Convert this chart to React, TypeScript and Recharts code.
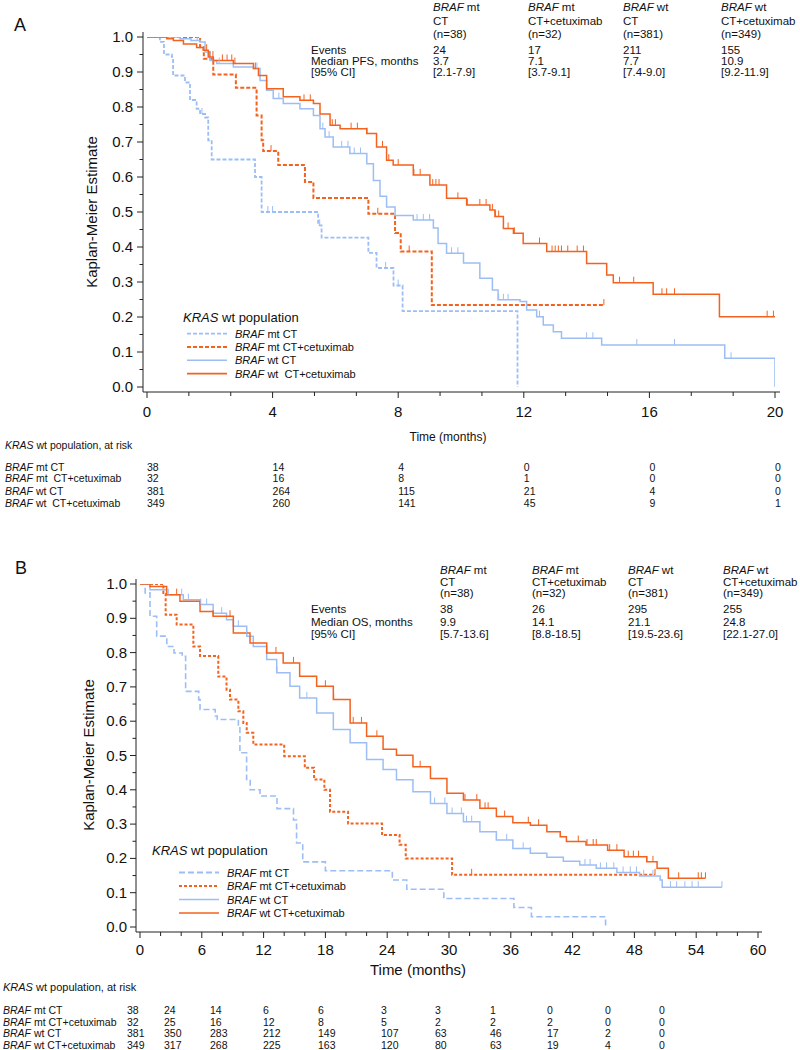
import React from 'react';
import { ComposedChart, Line, XAxis, YAxis } from 'recharts';

type Pt = [number, number];

const FONT = "'Liberation Sans', Arial, sans-serif";
const BLUE = '#9dbef5';
const ORANGE = '#f4621f';

// ---------- group descriptors ----------
const groupGene = ['mt', 'mt', 'wt', 'wt'];
const groupArm = ['CT', 'CT+cetuximab', 'CT', 'CT+cetuximab'];
const groupN = [38, 32, 381, 349];

// ---------- Panel A: PFS ----------
const pfsEvents = ['24', '17', '211', '155'];
const pfsMedian = ['3.7', '7.1', '7.7', '10.9'];
const pfsCI = ['[2.1-7.9]', '[3.7-9.1]', '[7.4-9.0]', '[9.2-11.9]'];
const pfsTicksMajor = [0, 4, 8, 12, 16, 20];
const pfsTicksAll = [0, 1.333, 2.667, 4, 5.333, 6.667, 8, 9.333, 10.667, 12, 13.333, 14.667, 16, 17.333, 18.667, 20];
const pfsAtRiskTimes = [0, 4, 8, 12, 16, 20];
const pfsAtRisk = [
  [38, 14, 4, 0, 0, 0],
  [32, 16, 8, 1, 0, 0],
  [381, 264, 115, 21, 4, 0],
  [349, 260, 141, 45, 9, 1],
];

const pfsMtCT: Pt[] = [
  [0, 1], [0.41, 0.986], [0.54, 0.95], [0.79, 0.943], [0.83, 0.89], [1.21, 0.87], [1.37, 0.82],
  [1.58, 0.795], [1.69, 0.78], [1.85, 0.77], [1.95, 0.705], [2.06, 0.65], [3.44, 0.6], [3.65, 0.5],
  [5.45, 0.462], [5.56, 0.427], [7.05, 0.383], [7.31, 0.34], [7.85, 0.29], [8.14, 0.217], [11.8, 0],
];
const pfsMtCTCens = [1.75, 3.85, 4.0, 5.5, 7.6, 8.0];

const pfsMtCetux: Pt[] = [
  [0, 1], [1.69, 0.971], [1.81, 0.938], [2.11, 0.893], [2.83, 0.855], [3.49, 0.776], [3.65, 0.705],
  [3.7, 0.674], [4.18, 0.634], [5.03, 0.586], [5.3, 0.54], [7.05, 0.495], [7.9, 0.44], [8.08, 0.387],
  [9.07, 0.234], [14.55, 0.234],
];
const pfsMtCetuxCens = [3.95, 7.35, 8.35, 14.55];

const pfsWtCT: Pt[] = [
  [0, 1], [1.05, 0.995], [1.4, 0.99], [1.69, 0.986], [1.85, 0.957], [2.01, 0.933], [2.22, 0.924],
  [2.75, 0.914], [3.39, 0.91], [3.6, 0.876], [3.81, 0.848], [4.02, 0.824], [4.34, 0.81], [4.87, 0.795],
  [5.3, 0.776], [5.51, 0.738], [5.67, 0.714], [5.93, 0.686], [6.46, 0.667], [7.0, 0.638], [7.21, 0.59],
  [7.42, 0.545], [7.63, 0.514], [7.9, 0.49], [8.48, 0.477], [9.12, 0.454], [9.27, 0.41], [9.54, 0.382],
  [10.08, 0.354], [10.6, 0.311], [11.0, 0.277], [11.18, 0.249], [11.88, 0.244], [12.09, 0.22],
  [12.41, 0.201], [12.62, 0.177], [12.94, 0.158], [13.2, 0.139], [14.48, 0.12], [18.4, 0.082], [20.0, 0],
];
const pfsWtCTCens = [1.6, 2.3, 3.5, 4.2, 5.6, 5.8, 6.2, 6.4, 6.6, 6.8, 8.6, 8.8, 9.0, 9.7, 9.9, 11.2, 11.35, 11.5, 12.5, 14.0, 14.2, 15.6, 16.8, 18.6];

const pfsWtCetux: Pt[] = [
  [0, 1], [0.63, 0.995], [0.84, 0.99], [1.16, 0.98], [1.58, 0.97], [1.79, 0.962], [1.95, 0.943],
  [2.11, 0.933], [2.75, 0.924], [3.39, 0.91], [3.55, 0.89], [3.81, 0.852], [4.34, 0.829], [4.87, 0.819],
  [5.3, 0.81], [5.51, 0.78], [5.83, 0.748], [6.15, 0.738], [7.0, 0.724], [7.31, 0.686], [7.63, 0.648],
  [7.84, 0.634], [8.48, 0.606], [9.01, 0.577], [9.54, 0.539], [10.18, 0.52], [10.92, 0.506],
  [11.08, 0.487], [11.35, 0.453], [11.67, 0.439], [11.98, 0.41], [12.73, 0.387], [14.0, 0.353],
  [14.64, 0.32], [14.85, 0.298], [16.12, 0.265], [18.23, 0.201], [20.05, 0.201],
];
const pfsWtCetuxCens = [1.9, 2.0, 2.1, 2.4, 2.55, 2.7, 2.8, 3.45, 5.0, 5.2, 5.9, 6.0, 6.5, 6.7, 7.0, 7.5, 7.7, 8.0, 8.5, 8.7, 9.1, 9.2, 9.3, 9.9, 10.2, 10.6, 10.8, 11.0, 11.1, 11.2, 11.5, 11.7, 12.5, 12.9, 13.0, 13.1, 13.2, 13.4, 13.7, 13.9, 15.05, 15.5, 16.4, 16.55, 16.8, 19.75, 19.95];

// ---------- Panel B: OS ----------
const osEvents = ['38', '26', '295', '255'];
const osMedian = ['9.9', '14.1', '21.1', '24.8'];
const osCI = ['[5.7-13.6]', '[8.8-18.5]', '[19.5-23.6]', '[22.1-27.0]'];
const osTicksMajor = [0, 6, 12, 18, 24, 30, 36, 42, 48, 54, 60];
const osTicksAll = [0, 2, 4, 6, 8, 10, 12, 14, 16, 18, 20, 22, 24, 26, 28, 30, 32, 34, 36, 38, 40, 42, 44, 46, 48, 50, 52, 54, 56, 58, 60];
const osAtRisk = [
  [38, 24, 14, 6, 6, 3, 3, 1, 0, 0, 0],
  [32, 25, 16, 12, 8, 5, 2, 2, 2, 0, 0],
  [381, 350, 283, 212, 149, 107, 63, 46, 17, 2, 0],
  [349, 317, 268, 225, 163, 120, 80, 63, 19, 4, 0],
];
const osAtRiskColX = [127, 164, 210, 263, 318, 381, 435, 490, 547, 605, 659];

const osMtCT: Pt[] = [
  [0, 1], [0.5, 0.974], [0.97, 0.906], [1.62, 0.848], [2.6, 0.818], [3.3, 0.799], [4.1, 0.789],
  [4.43, 0.687], [5.7, 0.663], [5.83, 0.634], [7.3, 0.615], [7.5, 0.605], [9.55, 0.585], [9.7, 0.508],
  [10.35, 0.43], [10.7, 0.4], [11.65, 0.382], [13.3, 0.345], [14.9, 0.312], [15.2, 0.245], [15.8, 0.19],
  [18.0, 0.164], [24.5, 0.137], [25.9, 0.11], [29.5, 0.083], [36.3, 0.057], [38.0, 0.03], [45.2, 0],
];
const osMtCTCens: number[] = [];

const osMtCetux: Pt[] = [
  [0, 1], [2.27, 0.974], [2.49, 0.91], [3.56, 0.882], [5.18, 0.818], [5.83, 0.79], [7.6, 0.73],
  [8.4, 0.692], [8.74, 0.663], [9.55, 0.629], [10.03, 0.595], [10.36, 0.566], [11.0, 0.532],
  [14.0, 0.498], [16.0, 0.464], [16.9, 0.43], [17.9, 0.4], [18.45, 0.336], [20.2, 0.302],
  [23.5, 0.268], [25.2, 0.24], [25.8, 0.2], [30.3, 0.152], [50.0, 0.152],
];
const osMtCetuxCens = [32.2, 50.0];

const osWtCT: Pt[] = [
  [0, 1], [0.97, 0.983], [2.59, 0.969], [4.2, 0.954], [5.83, 0.94], [7.1, 0.915], [8.4, 0.896],
  [9.06, 0.877], [10.36, 0.848], [11.0, 0.818], [12.3, 0.78], [13.27, 0.741], [14.56, 0.702],
  [15.5, 0.668], [17.15, 0.624], [18.77, 0.576], [20.4, 0.537], [22.0, 0.488], [23.6, 0.459],
  [24.9, 0.429], [26.5, 0.394], [28.2, 0.36], [29.8, 0.331], [31.4, 0.307], [33.0, 0.278],
  [34.6, 0.254], [36.2, 0.229], [37.9, 0.215], [39.5, 0.203], [41.1, 0.192], [42.7, 0.181],
  [44.3, 0.171], [46.3, 0.159], [48.5, 0.149], [50.5, 0.137], [50.7, 0.116], [56.5, 0.116],
];
const osWtCTCens = [2.75, 4.05, 4.7, 5.9, 6.47, 7.93, 9.55, 10.36, 13.3, 16.2, 28.6, 29.6, 30.3, 31.2, 31.7, 32.2, 34.6, 35.6, 37.2, 37.9, 43.2, 43.7, 44.7, 45.3, 46.0, 46.9, 47.6, 48.2, 48.9, 49.8, 51.5, 52.1, 52.9, 53.6, 54.2, 56.5];

const osWtCetux: Pt[] = [
  [0, 1], [0.97, 0.993], [2.59, 0.969], [3.88, 0.95], [5.83, 0.92], [7.1, 0.906], [9.06, 0.857],
  [10.68, 0.828], [12.3, 0.799], [13.9, 0.77], [15.5, 0.731], [17.15, 0.702], [18.77, 0.663],
  [20.4, 0.595], [22.0, 0.556], [23.6, 0.518], [24.9, 0.501], [26.5, 0.467], [28.2, 0.433],
  [29.8, 0.39], [31.4, 0.37], [33.0, 0.346], [34.6, 0.322], [36.2, 0.304], [37.9, 0.297],
  [39.5, 0.278], [40.8, 0.263], [41.4, 0.249], [43.3, 0.239], [45.4, 0.224], [47.0, 0.205],
  [49.2, 0.19], [50.2, 0.171], [51.3, 0.142], [54.9, 0.142],
];
const osWtCetuxCens = [3.56, 7.1, 8.74, 13.2, 14.9, 18.0, 18.8, 20.7, 21.5, 23.0, 27.2, 31.55, 32.7, 33.5, 33.8, 35.4, 37.7, 38.7, 42.55, 43.4, 44.0, 44.3, 45.6, 46.3, 47.4, 47.9, 48.4, 49.2, 49.8, 52.3, 54.2, 54.5, 54.9];

const survTicksAll = [0, 0.05, 0.1, 0.15, 0.2, 0.25, 0.3, 0.35, 0.4, 0.45, 0.5, 0.55, 0.6, 0.65, 0.7, 0.75, 0.8, 0.85, 0.9, 0.95, 1.0];

// ---------- helpers ----------
function buildKM(steps: Pt[], cens: number[]) {
  const pts = steps.map(([t, s]) => ({ t, s, c: 0 }));
  cens.forEach((ct) => {
    let s = steps[0][1];
    for (const [t, v] of steps) if (t <= ct) s = v;
    pts.push({ t: ct, s, c: 1 });
  });
  pts.sort((a, b) => a.t - b.t || a.c - b.c);
  return pts;
}

const censorDot = (color: string) => (p: any) => {
  const { cx, cy, payload, index } = p;
  if (!payload || !payload.c || cx == null || cy == null) return <g key={`n${index}`} />;
  return <line key={`c${index}`} x1={cx} x2={cx} y1={cy} y2={cy - 6} stroke={color} strokeWidth={1} />;
};

const makeXTick = (majors: number[], labelDy: number, fs: number) => (props: any) => {
  const { x, y, payload } = props;
  const v = payload.value;
  const major = majors.some((m) => Math.abs(m - v) < 1e-6);
  return (
    <g>
      <line x1={x} x2={x} y1={y} y2={y + (major ? 6 : 4)} stroke="#222" strokeWidth={1} />
      {major && (
        <text x={x} y={y + labelDy} textAnchor="middle" fontSize={fs} fontFamily={FONT} fill="#111">
          {String(v)}
        </text>
      )}
    </g>
  );
};

const makeYTick = (labelDx: number, fs: number) => (props: any) => {
  const { x, y, payload } = props;
  const v = payload.value;
  const major = Math.abs(v * 10 - Math.round(v * 10)) < 1e-6;
  return (
    <g>
      <line x1={x} x2={x - (major ? 6 : 3.5)} y1={y} y2={y} stroke="#222" strokeWidth={1} />
      {major && (
        <text x={x - labelDx} y={y + 5} textAnchor="end" fontSize={fs} fontFamily={FONT} fill="#111">
          {v.toFixed(1)}
        </text>
      )}
    </g>
  );
};

const series = (
  key: string,
  steps: Pt[],
  cens: number[],
  color: string,
  width: number,
  dash?: string,
) => (
  <Line
    key={key}
    data={buildKM(steps, cens)}
    dataKey="s"
    type="stepAfter"
    stroke={color}
    strokeWidth={width}
    strokeDasharray={dash}
    dot={censorDot(color)}
    activeDot={false}
    isAnimationActive={false}
  />
);

const Braf = ({ x, y, rest, fs }: { x: number; y: number; rest: string; fs: number }) => (
  <text x={x} y={y} fontSize={fs} fontFamily={FONT} fill="#111" style={{ whiteSpace: 'pre' }}>
    <tspan fontStyle="italic">BRAF</tspan>
    {rest}
  </text>
);

const T = ({ x, y, fs, children, anchor }: any) => (
  <text x={x} y={y} fontSize={fs} fontFamily={FONT} fill="#111" textAnchor={anchor || 'start'}>
    {children}
  </text>
);

const AXW = 40; // y-axis band width
const AXH = 30; // x-axis band height

export default function App() {
  const aCols = [433, 528, 623, 721];
  const bCols = [440, 532, 628, 723];
  const aX = (t: number) => 147 + t * 31.4;
  const aLegendY = [333.7, 347, 360.3, 373.6];
  const bLegendY = [872.5, 886, 899.5, 913];
  const legendStyles = [
    { c: BLUE, w: 1.8, dA: '4 2', dB: '6 3' },
    { c: ORANGE, w: 2, dA: '4 2', dB: '3 2' },
    { c: BLUE, w: 1.6, dA: undefined, dB: undefined },
    { c: ORANGE, w: 1.6, dA: undefined, dB: undefined },
  ];
  const aLegendText = [' mt CT', ' mt CT+cetuximab', ' wt CT', ' wt  CT+cetuximab'];
  const aRiskText = [' mt CT', ' mt  CT+cetuximab', ' wt CT', ' wt  CT+cetuximab'];
  const aRowY = [471, 482, 495, 507];
  const bRowY = [1014, 1025.5, 1037, 1048.5];

  return (
    <div style={{ position: 'absolute', left: 0, top: 0, width: 800, height: 1050, background: '#fff' }}>
      <div style={{ position: 'absolute', left: 0, top: 0 }}>
        <ComposedChart width={800} height={530} margin={{ top: 32, left: 143 - AXW, right: 20, bottom: 138 - AXH }}>
          <XAxis
            dataKey="t"
            type="number"
            domain={[0, 20]}
            ticks={pfsTicksAll}
            interval={0}
            height={AXH}
            padding={{ left: 4, right: 5 }}
            tickSize={0}
            tickMargin={0}
            tickLine={false}
            axisLine={{ stroke: '#222' }}
            tick={makeXTick(pfsTicksMajor, 25, 15)}
            allowDataOverflow
          />
          <YAxis
            type="number"
            domain={[0, 1]}
            ticks={survTicksAll}
            interval={0}
            width={AXW}
            padding={{ top: 5, bottom: 5 }}
            tickSize={0}
            tickMargin={0}
            tickLine={false}
            axisLine={{ stroke: '#222' }}
            tick={makeYTick(10, 15)}
            allowDataOverflow
          />
          {series('a1', pfsMtCT, pfsMtCTCens, BLUE, 1.8, '4 2')}
          {series('a2', pfsMtCetux, pfsMtCetuxCens, ORANGE, 2, '4 2')}
          {series('a3', pfsWtCT, pfsWtCTCens, BLUE, 1.5)}
          {series('a4', pfsWtCetux, pfsWtCetuxCens, ORANGE, 1.5)}
        </ComposedChart>
      </div>

      <div style={{ position: 'absolute', left: 0, top: 530 }}>
        <ComposedChart width={800} height={520} margin={{ top: 49, left: 136 - AXW, right: 38, bottom: 118 - AXH }}>
          <XAxis
            dataKey="t"
            type="number"
            domain={[0, 60]}
            ticks={osTicksAll}
            interval={0}
            height={AXH}
            padding={{ left: 4, right: 4 }}
            tickSize={0}
            tickMargin={0}
            tickLine={false}
            axisLine={{ stroke: '#222' }}
            tick={makeXTick(osTicksMajor, 23, 15)}
            allowDataOverflow
          />
          <YAxis
            type="number"
            domain={[0, 1]}
            ticks={survTicksAll}
            interval={0}
            width={AXW}
            padding={{ top: 5, bottom: 5 }}
            tickSize={0}
            tickMargin={0}
            tickLine={false}
            axisLine={{ stroke: '#222' }}
            tick={makeYTick(9, 15)}
            allowDataOverflow
          />
          {series('b1', osMtCT, osMtCTCens, BLUE, 1.6, '6 3')}
          {series('b2', osMtCetux, osMtCetuxCens, ORANGE, 2, '3 2')}
          {series('b3', osWtCT, osWtCTCens, BLUE, 1.5)}
          {series('b4', osWtCetux, osWtCetuxCens, ORANGE, 1.5)}
        </ComposedChart>
      </div>

      <svg width={800} height={1050} style={{ position: 'absolute', left: 0, top: 0, pointerEvents: 'none' }}>
        {/* ---------------- Panel A ---------------- */}
        <T x={14} y={31} fs={18}>A</T>
        <text transform="translate(97,212) rotate(-90)" textAnchor="middle" fontSize={15} fontFamily={FONT} fill="#111">
          Kaplan-Meier Estimate
        </text>
        <T x={448} y={441} fs={12} anchor="middle">Time (months)</T>

        {aCols.map((x, i) => (
          <g key={`ah${i}`}>
            <Braf x={x} y={11} rest={` ${groupGene[i]}`} fs={11.5} />
            <T x={x} y={25} fs={11.5}>{groupArm[i]}</T>
            <T x={x} y={37.5} fs={11.5}>{`(n=${groupN[i]})`}</T>
            <T x={x} y={54} fs={11.5}>{pfsEvents[i]}</T>
            <T x={x} y={65} fs={11.5}>{pfsMedian[i]}</T>
            <T x={x} y={76} fs={11.5}>{pfsCI[i]}</T>
          </g>
        ))}
        <T x={311} y={54} fs={11.5}>Events</T>
        <T x={311} y={65} fs={11.5}>Median PFS, months</T>
        <T x={311} y={76} fs={11.5}>[95% CI]</T>

        <text x={183} y={322} fontSize={13} fontFamily={FONT} fill="#111">
          <tspan fontStyle="italic">KRAS</tspan> wt population
        </text>
        {legendStyles.map((s, i) => (
          <g key={`al${i}`}>
            <line x1={187} x2={227} y1={aLegendY[i]} y2={aLegendY[i]} stroke={s.c} strokeWidth={s.w} strokeDasharray={s.dA} />
            <Braf x={235} y={aLegendY[i] + 4} rest={aLegendText[i]} fs={11} />
          </g>
        ))}

        <text x={5} y={449} fontSize={10.5} fontFamily={FONT} fill="#111">
          <tspan fontStyle="italic">KRAS</tspan> wt population, at risk
        </text>
        {pfsAtRisk.map((row, r) => (
          <g key={`ar${r}`}>
            <Braf x={5} y={aRowY[r]} rest={aRiskText[r]} fs={10.5} />
            {row.map((v, j) => (
              <T key={j} x={aX(pfsAtRiskTimes[j])} y={aRowY[r]} fs={10.5}>{String(v)}</T>
            ))}
          </g>
        ))}

        {/* ---------------- Panel B ---------------- */}
        <T x={15} y={574} fs={18}>B</T>
        <text transform="translate(94,755) rotate(-90)" textAnchor="middle" fontSize={15} fontFamily={FONT} fill="#111">
          Kaplan-Meier Estimate
        </text>
        <T x={418} y={975} fs={15} anchor="middle">Time (months)</T>

        {bCols.map((x, i) => (
          <g key={`bh${i}`}>
            <Braf x={x} y={574} rest={` ${groupGene[i]}`} fs={11.5} />
            <T x={x} y={586} fs={11.5}>{groupArm[i]}</T>
            <T x={x} y={596.5} fs={11.5}>{`(n=${groupN[i]})`}</T>
            <T x={x} y={613} fs={11.5}>{osEvents[i]}</T>
            <T x={x} y={626} fs={11.5}>{osMedian[i]}</T>
            <T x={x} y={637.5} fs={11.5}>{osCI[i]}</T>
          </g>
        ))}
        <T x={311} y={613} fs={11.5}>Events</T>
        <T x={311} y={626} fs={11.5}>Median OS, months</T>
        <T x={311} y={637.5} fs={11.5}>[95% CI]</T>

        <text x={152} y={855} fontSize={13} fontFamily={FONT} fill="#111">
          <tspan fontStyle="italic">KRAS</tspan> wt population
        </text>
        {legendStyles.map((s, i) => (
          <g key={`bl${i}`}>
            <line x1={179} x2={219} y1={bLegendY[i]} y2={bLegendY[i]} stroke={s.c} strokeWidth={s.w} strokeDasharray={s.dB} />
            <Braf x={227} y={bLegendY[i] + 4} rest={` ${groupGene[i]} ${groupArm[i]}`} fs={11} />
          </g>
        ))}

        <text x={3} y={991} fontSize={11} fontFamily={FONT} fill="#111">
          <tspan fontStyle="italic">KRAS</tspan> wt population, at risk
        </text>
        {osAtRisk.map((row, r) => (
          <g key={`br${r}`}>
            <Braf x={3} y={bRowY[r]} rest={` ${groupGene[r]} ${groupArm[r]}`} fs={10.5} />
            {row.map((v, j) => (
              <T key={j} x={osAtRiskColX[j]} y={bRowY[r]} fs={10.5}>{String(v)}</T>
            ))}
          </g>
        ))}
      </svg>
    </div>
  );
}
